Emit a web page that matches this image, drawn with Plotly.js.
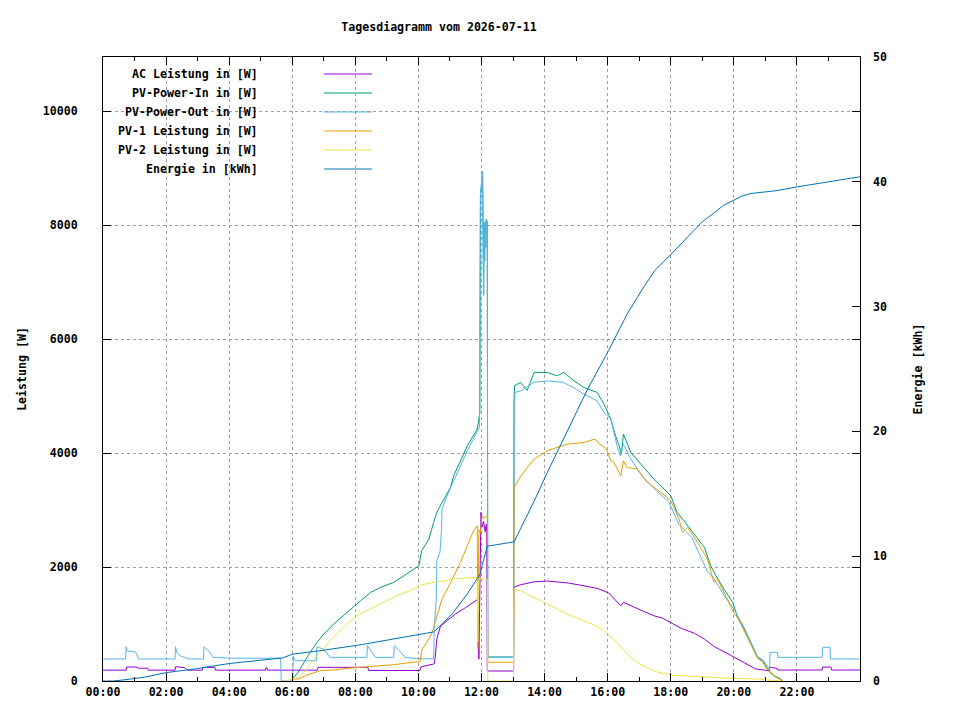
<!DOCTYPE html>
<html>
<head>
<meta charset="utf-8">
<script src="https://cdn.plot.ly/plotly-3.0.1.min.js"></script>
<style>
  body { margin: 0; background: #fff; }
  #chart { width: 960px; height: 720px; }
</style>
</head>
<body>
<div id="chart"></div>
<script>
// Tagesdiagramm, Werte (Uhrzeit -> Watt bzw. kWh)
var day = "2026-07-11";

var acTime = ["00:00","00:44","00:45","01:05","01:06","01:25","01:26","02:17","02:18","02:35","02:41","03:09",
  "03:10","03:33","03:34","05:09","05:10","05:12","05:13","06:48","06:49","08:24","08:25","10:03","10:05",
  "10:30","10:32","10:35","10:42","11:00","11:10","11:30","11:45","11:54","11:55","11:57","11:59","12:01",
  "12:04","12:07","12:09","12:10","12:11","13:01","13:02","13:15","13:40","14:05","14:45","15:15","15:40",
  "16:02","16:15","16:25","16:30","16:50","17:10","17:28","17:45","18:20","18:45","19:04","19:22","19:41",
  "20:01","20:26","20:42","21:07","21:08","21:22","21:23","22:48","22:49","23:05","23:06","24:00"];
var acPower = [190,190,245,245,225,225,190,190,250,235,190,190,
  240,240,190,190,230,230,190,190,240,240,185,185,250,
  300,420,740,965,1100,1175,1290,1385,1440,385,1440,2960,2700,
  2800,2620,2750,2650,175,175,1650,1690,1740,1755,1720,1670,1625,
  1545,1409,1320,1380,1293,1216,1145,1100,924,837,737,608,515,
  415,298,210,180,240,222,193,193,245,245,193,193];

var pvInTime = ["06:00","06:02","06:09","06:22","06:34","06:47","07:00","07:19","07:44","08:10","08:29","08:48",
  "09:13","09:38","09:58","10:01","10:06","10:20","10:29","10:35","10:45","11:01","11:07","11:33","11:52",
  "11:57","11:58","12:02","12:03","12:04","12:05","12:06","12:07","12:08","12:09","12:11","12:12","13:01",
  "13:02","13:03","13:14","13:27","13:40","14:05","14:24","14:37","14:56","15:15","15:40","15:53","16:06",
  "16:15","16:22","16:26","16:30","16:37","16:44","17:03","17:28","18:00","18:12","18:25","18:44","19:04",
  "19:16","19:26","19:41","19:58","20:07","20:20","20:38","20:45","20:55","21:04","21:17","21:29","21:33"];
var pvInPower = [0,65,123,328,503,678,824,1000,1205,1408,1555,1643,
  1731,1877,1994,2022,2285,2490,2783,2959,3134,3397,3600,4127,4420,
  4713,8510,8950,8050,6770,8050,7370,8050,7610,8100,8050,420,420,
  5000,5180,5240,5100,5415,5415,5355,5415,5267,5150,5064,4860,4596,
  4303,4127,3980,4332,4157,4010,3806,3543,3250,2959,2812,2578,2345,
  2022,1847,1614,1380,1117,912,561,415,356,210,93,35,0];

var pvOutTime = ["00:00","00:43","00:44","00:46","01:02","01:05","01:08","02:17","02:18","02:20","02:26","02:43",
  "03:11","03:12","03:21","03:30","04:02","05:38","05:39","06:01","06:02","06:05","06:46","06:47","07:00",
  "07:12","08:22","08:23","08:32","08:38","09:13","09:14","09:22","09:35","10:03","10:29","10:30","10:32",
  "10:34","10:35","10:41","10:44","10:45","10:52","11:01","11:07","11:33","11:52","11:56","11:57","11:58",
  "12:02","12:03","12:04","12:05","12:06","12:07","12:08","12:09","12:11","12:12","13:01","13:02","13:04",
  "13:15","13:40","14:05","14:35","14:55","15:15","15:40","15:53","16:06","16:18","16:24","16:30","16:42",
  "17:07","17:33","17:57","18:15","18:40","19:10","19:22","19:41","20:01","20:20","20:38","20:45","20:55",
  "21:05","21:08","21:09","21:23","21:24","22:48","22:49","23:03","23:04","24:00"];
var pvOutPower = [386,386,600,530,508,445,386,386,600,508,445,386,
  386,600,530,416,400,400,0,0,432,356,356,596,560,
  415,415,620,503,415,415,620,551,415,390,390,912,1263,
  1440,2110,2257,2666,3017,3192,3368,3513,4040,4362,4450,6735,8510,
  8950,8050,6770,8050,7370,8050,7610,8100,8050,420,420,4888,5064,
  5090,5240,5267,5240,5150,5034,4917,4713,4596,4127,3952,4157,3924,
  3573,3338,3134,2754,2520,1920,1800,1510,1250,930,580,430,370,
  230,210,503,503,415,415,591,591,386,386];

var pv1Time = ["06:00","06:12","06:25","06:47","06:53","07:25","07:44","08:10","08:35","09:13","09:38","10:03",
  "10:07","10:16","10:26","10:35","10:45","10:55","11:07","11:20","11:33","11:45","11:52","11:53","11:55",
  "11:58","12:01","12:05","12:09","12:11","12:12","13:01","13:02","13:04","13:15","13:40","14:05","14:43",
  "15:15","15:36","15:45","15:57","16:06","16:12","16:25","16:30","16:37","16:56","17:16","17:41","18:00",
  "18:16","18:22","18:32","18:51","19:10","19:22","19:29","19:45","20:01","20:07","20:20","20:38","20:45",
  "20:55","21:04","21:17","21:29","21:33"];
var pv1Power = [35,35,93,152,181,198,222,240,257,286,315,339,
  561,678,853,1145,1438,1614,1850,2081,2373,2636,2724,561,2650,
  2600,2900,2850,2900,2880,328,328,3397,3426,3601,3894,4040,4157,
  4187,4245,4157,4081,3864,3835,3600,3864,3748,3719,3485,3310,3163,
  2841,2608,2696,2433,2140,1731,1790,1496,1175,1117,880,530,400,
  330,190,80,20,0];

var pv2Time = ["05:45","06:12","06:22","06:34","06:53","07:12","07:31","08:03","08:35","09:07","09:19","09:51",
  "10:04","10:35","10:55","11:01","11:52","11:53","11:55","12:00","12:05","12:11","12:12","13:01","13:02",
  "13:14","13:34","13:52","14:18","14:43","14:59","15:30","15:50","16:15","16:40","17:00","17:30","18:00",
  "18:20","19:00","20:00","20:40","21:20","21:30"];
var pv2Power = [0,65,152,298,503,707,882,1145,1293,1450,1496,1614,
  1684,1742,1760,1789,1819,684,1790,1800,1780,1780,0,0,1614,
  1584,1496,1409,1293,1175,1117,1000,900,700,450,300,170,100,
  93,70,45,35,10,0];

var energyTime = ["00:00","00:18","00:38","01:18","02:00","03:00","04:00","05:00","05:42","06:00","06:48","08:04",
  "09:06","10:04","10:29","10:48","11:06","11:33","11:58","12:00","12:11","13:02","13:40","14:05","14:43",
  "15:08","15:22","16:02","16:37","17:09","17:30","18:03","18:20","18:44","19:00","19:22","19:40","20:01",
  "20:15","20:32","21:00","21:23","22:01","22:58","24:00"];
var energyKwh = [0,0,0.08,0.3,0.67,1.0,1.4,1.66,1.85,2.15,2.4,2.86,
  3.3,3.7,3.93,4.68,5.48,6.98,8.6,9.07,10.8,11.15,14.4,16.7,20.0,
  22.2,23.4,26.5,29.4,31.6,32.9,34.3,35.05,36.1,36.8,37.5,38.1,38.55,
  38.85,39.06,39.2,39.3,39.6,40.0,40.4];

var xTickLabels = ["00:00","02:00","04:00","06:00","08:00","10:00","12:00","14:00","16:00","18:00","20:00","22:00"];

var seriesNames = ["AC Leistung in [W]", "PV-Power-In in [W]", "PV-Power-Out in [W]",
  "PV-1 Leistung in [W]", "PV-2 Leistung in [W]", "Energie in [kWh]"];
var seriesColors = ["#9400d3", "#009e73", "#56b4e9", "#e69f00", "#f0e442", "#0072b2"];

function toDate(t) {
  if (t === "24:00") return "2026-07-12 00:00";
  return day + " " + t;
}

function line(i, times, vals, axis) {
  return {
    x: times.map(toDate),
    y: vals,
    name: seriesNames[i],
    mode: "lines",
    line: { color: seriesColors[i], width: 1 },
    yaxis: axis,
    showlegend: false,
    hoverinfo: "skip"
  };
}

var data = [
  line(0, acTime, acPower, "y"),
  line(1, pvInTime, pvInPower, "y"),
  line(2, pvOutTime, pvOutPower, "y"),
  line(3, pv1Time, pv1Power, "y"),
  line(4, pv2Time, pv2Power, "y"),
  line(5, energyTime, energyKwh, "y2")
];

var mono = { family: "DejaVu Sans Mono", size: 11.6, color: "#000", weight: "bold" };

// eigene Legende im gnuplot-Stil: Text rechtsbuendig, Linie rechts daneben
var shapes = [{
  type: "rect", xref: "paper", yref: "paper", layer: "between",
  x0: 0.002, x1: 0.366, y0: 0.806, y1: 0.998,
  fillcolor: "#fff", line: { width: 0 }
}];
var annotations = [];
for (var i = 0; i < seriesNames.length; i++) {
  var yp = (681 - (74 + i * 19)) / 624;
  annotations.push({
    xref: "paper", yref: "paper", x: 0.2074, y: yp,
    xanchor: "right", yanchor: "middle", showarrow: false,
    text: seriesNames[i], font: mono
  });
  shapes.push({
    type: "line", xref: "paper", yref: "paper", layer: "above",
    x0: 0.292, x1: 0.3554, y0: yp, y1: yp,
    line: { color: seriesColors[i], width: 1 }
  });
}

var layout = {
  width: 960, height: 720,
  margin: { l: 103, r: 100, t: 57, b: 39 },
  paper_bgcolor: "#fff", plot_bgcolor: "#fff",
  font: mono,
  title: {
    text: "Tagesdiagramm vom 2026-07-11", font: mono,
    xref: "container", yref: "container", x: 439 / 960, y: 1 - 27 / 720,
    xanchor: "center", yanchor: "middle"
  },
  xaxis: {
    type: "date",
    range: [day + " 00:00", "2026-07-12 00:00"],
    tickmode: "array",
    tickvals: xTickLabels.map(toDate),
    ticktext: xTickLabels,
    ticks: "inside", ticklen: 8, tickcolor: "#000",
    minor: { dtick: 3600000, tick0: day + " 00:00", ticks: "inside", ticklen: 4, tickcolor: "#000", showgrid: false },
    showline: true, linecolor: "#000", linewidth: 1, mirror: "ticks",
    showgrid: true, gridcolor: "#a0a0a0", griddash: "dot", gridwidth: 1,
    zeroline: false, tickfont: mono
  },
  yaxis: {
    range: [0, 10950], dtick: 2000, tick0: 0, tickformat: "d",
    ticks: "inside", ticklen: 8, tickcolor: "#000",
    showline: true, linecolor: "#000", linewidth: 1, mirror: "ticks",
    showgrid: true, gridcolor: "#a0a0a0", griddash: "dot", gridwidth: 1,
    zeroline: false, tickfont: mono, ticklabelstandoff: 22,
    title: { text: "Leistung [W]", font: mono, standoff: 13 }
  },
  yaxis2: {
    overlaying: "y", side: "right",
    range: [0, 50], dtick: 10, tick0: 0,
    ticks: "inside", ticklen: 8, tickcolor: "#000",
    showline: false, showgrid: false, zeroline: false,
    tickfont: mono, ticklabelstandoff: 12,
    title: { text: "Energie [kWh]", font: mono, standoff: 27 }
  },
  shapes: shapes,
  annotations: annotations
};

Plotly.newPlot("chart", data, layout, { staticPlot: true });
</script>
</body>
</html>
